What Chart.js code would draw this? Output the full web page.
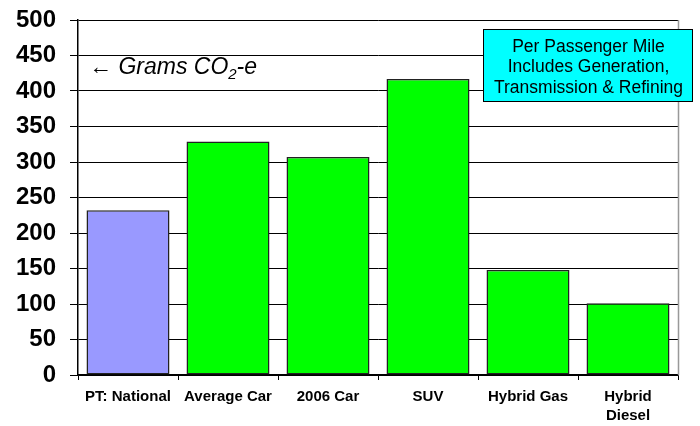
<!DOCTYPE html>
<html><head><meta charset="utf-8">
<script src="https://cdn.jsdelivr.net/npm/chart.js@4"></script>
<style>html,body{margin:0;padding:0;background:#fff}#wrap{width:700px;height:426px}</style>
</head><body><div id="wrap"><canvas id="c" width="700" height="426"></canvas></div>
<script>
const categories = ["PT: National", "Average Car", "2006 Car", "SUV", "Hybrid Gas", ["Hybrid", "Diesel"]];
const values = [232, 329, 307, 417, 148, 101];
const barColors = ["#9999ff", "#00ff00", "#00ff00", "#00ff00", "#00ff00", "#00ff00"];
const yTicks = [0, 50, 100, 150, 200, 250, 300, 350, 400, 450, 500];
const noteLines = ["Per Passenger Mile", "Includes Generation,", "Transmission & Refining"];

const extras = {
  id: 'extras',
  afterDraw(chart) {
    const ctx = chart.ctx, a = chart.chartArea;
    ctx.save();
    // right border
    ctx.strokeStyle = '#999'; ctx.lineWidth = 1.5;
    ctx.beginPath(); ctx.moveTo(a.right + 0.5, a.top); ctx.lineTo(a.right + 0.5, a.bottom); ctx.stroke();
    // note box
    const bx = 483, by = 29, bw = 209, bh = 72;
    ctx.fillStyle = '#00ffff'; ctx.fillRect(bx, by, bw, bh);
    ctx.strokeStyle = '#000'; ctx.lineWidth = 1; ctx.strokeRect(bx + 0.5, by + 0.5, bw, bh);
    ctx.fillStyle = '#000'; ctx.font = '17.5px "Liberation Sans", Arial, sans-serif';
    ctx.textAlign = 'center'; ctx.textBaseline = 'middle';
    noteLines.forEach((t, i) => ctx.fillText(t, bx + bw / 2 + 1, by + 18 + i * 20.5));
    // Grams label
    ctx.textAlign = 'left'; ctx.textBaseline = 'alphabetic';
    ctx.font = 'italic 23px "Liberation Sans", Arial, sans-serif';
    let x = 89, y = 74;
    const s1 = '\u2190 Grams CO';
    ctx.fillText(s1, x, y); x += ctx.measureText(s1).width;
    ctx.font = 'italic 15px "Liberation Sans", Arial, sans-serif';
    ctx.fillText('2', x, y + 5); x += ctx.measureText('2').width;
    ctx.font = 'italic 23px "Liberation Sans", Arial, sans-serif';
    ctx.fillText('-e', x, y);
    ctx.restore();
  }
};

new Chart(document.getElementById('c'), {
  type: 'bar',
  data: {
    labels: categories,
    datasets: [{
      data: values,
      backgroundColor: barColors,
      borderColor: '#222',
      borderWidth: 1.5,
      borderSkipped: false,
      barPercentage: 0.83,
      categoryPercentage: 1.0
    }]
  },
  options: {
    responsive: false,
    animation: false,
    devicePixelRatio: 1,
    layout: { padding: { top: 20, right: 22, left: 0, bottom: 0 } },
    plugins: { legend: { display: false }, tooltip: { enabled: false } },
    scales: {
      y: {
        min: 0, max: 500,
        afterBuildTicks(s) { s.ticks = yTicks.map(v => ({ value: v })); },
        afterFit(s) { s.width = 78; s.paddingTop = 0; },
        grid: { color: '#000', lineWidth: 1, tickLength: 8, drawTicks: true },
        border: { color: '#000', width: 1.5 },
        ticks: { color: '#000', padding: 14, font: { family: '"Liberation Sans", Arial, sans-serif', size: 24, weight: 'bold' } }
      },
      x: {
        afterFit(s) { s.height = 51; },
        grid: { offset: true, drawOnChartArea: false, color: '#000', tickLength: 5 },
        border: { color: '#000', width: 1.5 },
        ticks: { color: '#000', padding: 8, maxRotation: 0, autoSkip: false, font: { family: '"Liberation Sans", Arial, sans-serif', size: 15, weight: 'bold', lineHeight: 1.22 } }
      }
    }
  },
  plugins: [extras]
});
</script></body></html>
